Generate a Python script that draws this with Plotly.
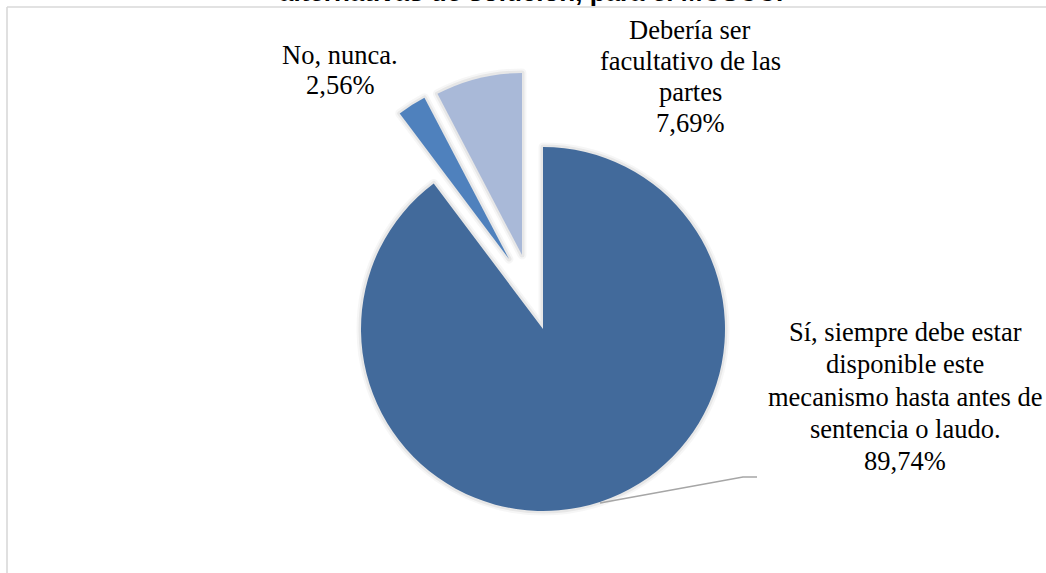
import plotly.graph_objects as go

# ---------------- data ----------------
categories = [
    "Sí, siempre debe estar disponible este mecanismo hasta antes de sentencia o laudo.",
    "No, nunca.",
    "Debería ser facultativo de las partes",
]
values = [89.74, 2.56, 7.69]
value_labels = ["89,74%", "2,56%", "7,69%"]
label_lines = [
    ["Sí, siempre debe estar", "disponible este", "mecanismo hasta antes de", "sentencia o laudo."],
    ["No, nunca."],
    ["Debería ser", "facultativo de las", "partes"],
]
title_text = "alternativas de solución, para el MCSCC."

# ---------------- style / layout ----------------
W, H = 1046, 573
colors = ["#426A9B", "#4F81BD", "#A9B9D8"]
R = 182
centers = [(543, 329), (509, 259), (522, 255)]   # exploded slice centres (px)
label_pos = [(905, 341, 32.3), (340, 63.7, 30.5), (690, 38.5, 31.0)]  # centre x, first baseline, line gap (px)
fs = 26.5
serif = "Liberation Serif"


def px(x):
    return x / W


def py(y):
    return 1 - y / H


fig = go.Figure()

# soft shadows
for layer_w, layer_a in [(9, 0.035), (5, 0.06)]:
    for i, (cx, cy) in enumerate(centers):
        fig.add_trace(go.Pie(
            values=values, labels=categories, sort=False, direction="clockwise", rotation=0,
            marker=dict(colors=["rgba(0,0,0,0)"] * 3,
                        line=dict(color=f"rgba(0,0,0,{layer_a})",
                                  width=[layer_w if j == i else 0 for j in range(3)])),
            textinfo="none", hoverinfo="skip", showlegend=False,
            domain=dict(x=[px(cx - R), px(cx + R)], y=[py(cy + R), py(cy - R)]),
        ))

# slices
for i, (cx, cy) in enumerate(centers):
    fig.add_trace(go.Pie(
        values=values, labels=categories, sort=False, direction="clockwise", rotation=0,
        marker=dict(colors=[colors[j] if j == i else "rgba(0,0,0,0)" for j in range(3)],
                    line=dict(width=0)),
        textinfo="none", hoverinfo="label+percent", showlegend=False,
        domain=dict(x=[px(cx - R), px(cx + R)], y=[py(cy + R), py(cy - R)]),
    ))

annotations = []
asc_desc_mid = 0.3375 * fs
for i in range(3):
    lines = label_lines[i] + [value_labels[i]]
    cx, b0, gap = label_pos[i]
    for k, t in enumerate(lines):
        b = b0 + k * gap
        annotations.append(dict(
            text=t, x=px(cx), y=py(b - asc_desc_mid), xref="paper", yref="paper",
            xanchor="center", yanchor="middle", showarrow=False,
            font=dict(family=serif, size=fs, color="#000000"),
        ))

# partially visible title (cut off at top)
annotations.append(dict(
    text=f"<b>{title_text}</b>", x=px(531), y=py(9.3), xref="paper", yref="paper",
    xanchor="center", yanchor="bottom", showarrow=False,
    font=dict(family="Liberation Sans", size=26, color="#000000"),
))

shapes = [
    dict(type="line", xref="paper", yref="paper", x0=px(7), y0=py(7), x1=px(7), y1=py(H),
         line=dict(color="#D9D9D9", width=1.6)),
    dict(type="line", xref="paper", yref="paper", x0=px(7), y0=py(7), x1=px(W), y1=py(7),
         line=dict(color="#D9D9D9", width=1.6)),
    dict(type="path", xref="paper", yref="paper",
         path=f"M {px(600)} {py(503)} L {px(743)} {py(477)} L {px(757)} {py(477)}",
         line=dict(color="#A6A6A6", width=1.5)),
]

fig.update_layout(
    width=W, height=H,
    margin=dict(l=0, r=0, t=0, b=0),
    paper_bgcolor="white", plot_bgcolor="white",
    showlegend=False,
    annotations=annotations,
    shapes=shapes,
)

fig.write_html(
    "out.html",
    config={"displayModeBar": False},
    post_script="document.body.style.margin='0';document.body.style.overflow='hidden';",
)
